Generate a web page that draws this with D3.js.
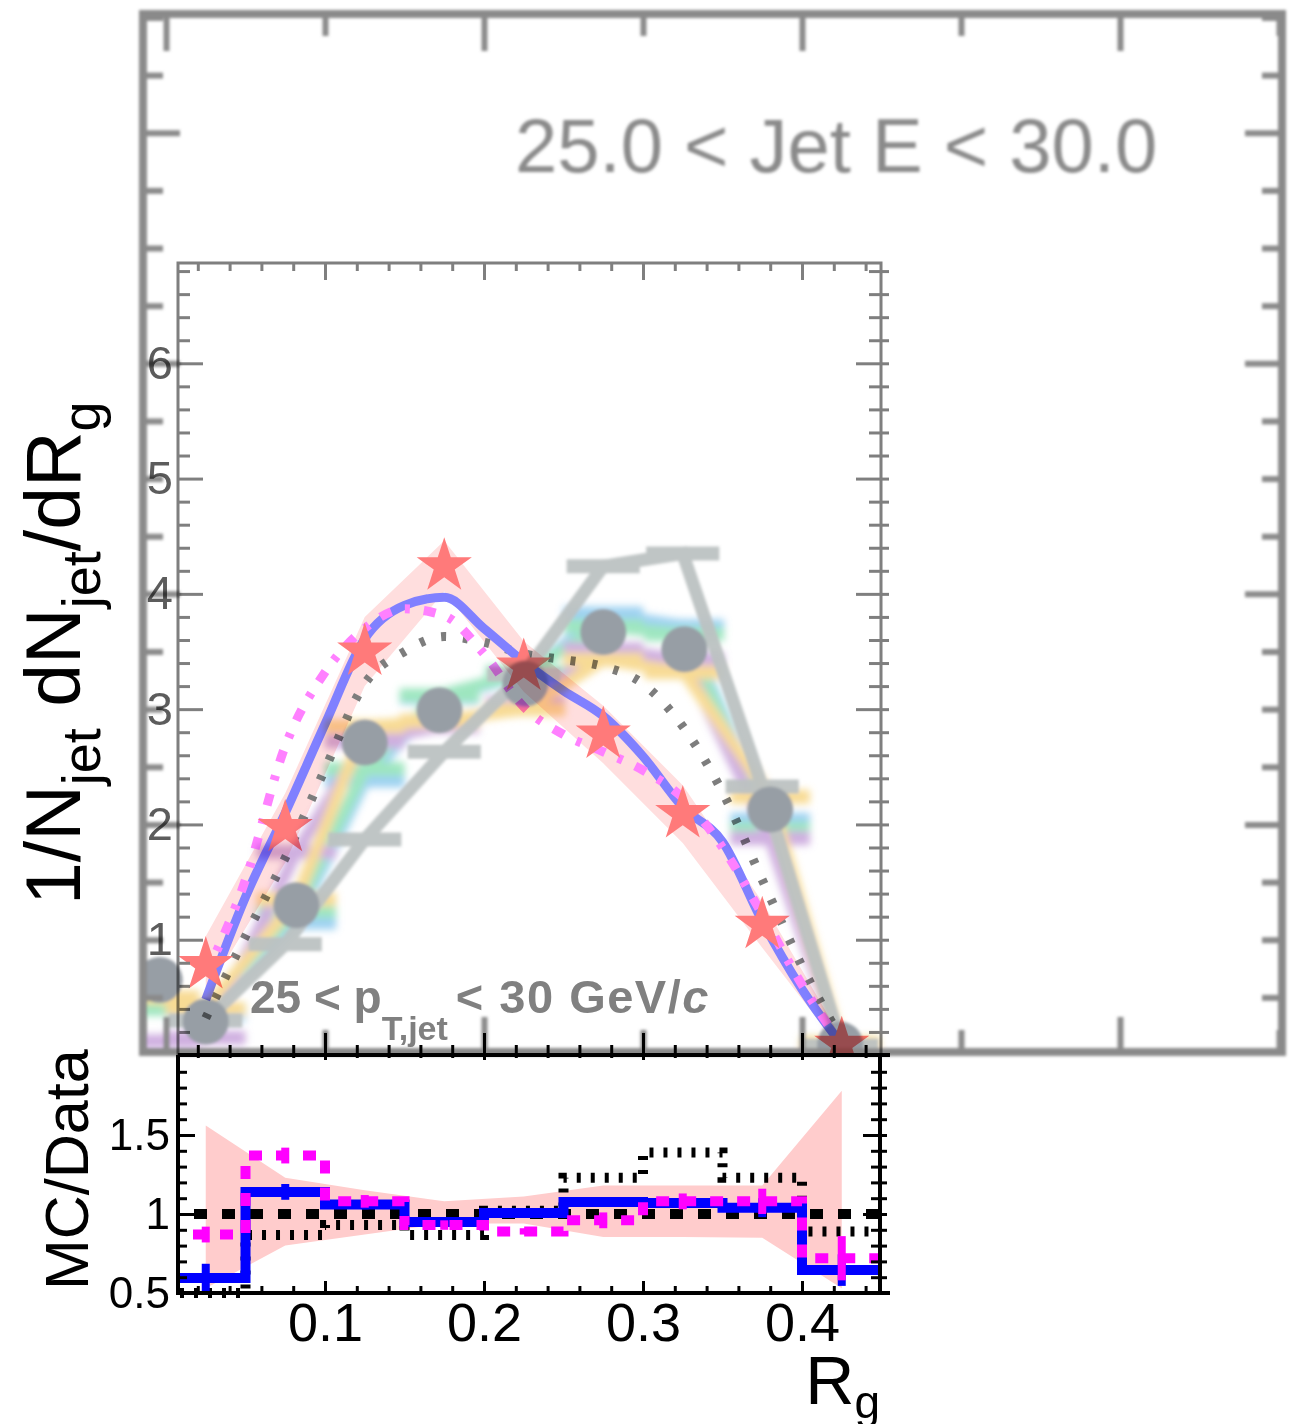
<!DOCTYPE html>
<html><head><meta charset="utf-8">
<script src="https://cdn.jsdelivr.net/npm/d3@7"></script>
<style>body{margin:0;background:#fff}svg{display:block}</style>
</head><body><svg id="c" width="1292" height="1424"></svg>
<script>
// ---------------- data ----------------
const binEdges   = [0,0.05,0.1,0.15,0.2,0.25,0.3,0.35,0.4,0.45];
const binCenters = [0.025,0.075,0.125,0.175,0.225,0.275,0.325,0.375,0.425];
const dataY   = [0.78,1.97,3.50,4.24,3.37,2.78,2.09,1.13,0.09];
const dataErr = [0.25,0.30,0.30,0.22,0.22,0.25,0.25,0.20,0.05];
const curveX  = [0.025,0.05,0.075,0.1,0.125,0.15,0.175,0.2,0.225,0.25,0.275,0.3,0.325,0.35,0.375,0.4,0.425];
const blueY   = [0.48,1.37,2.10,2.87,3.61,3.90,3.97,3.70,3.41,3.16,2.94,2.59,2.15,1.85,1.16,0.57,0.09];
const magY    = [0.70,1.52,2.68,3.32,3.70,3.87,3.81,3.48,3.02,2.78,2.63,2.47,2.23,1.80,1.22,0.61,0.09];
const dotY    = [0.32,1.03,1.71,2.48,3.22,3.50,3.63,3.58,3.48,3.43,3.37,3.22,2.85,2.28,1.52,0.77,0.13];
// ratio panel
const ratioBlue    = [0.595,1.14,1.06,0.95,1.006,1.076,1.07,1.04,0.645];
const ratioBlueErr = [0.09,0.05,0.03,0.02,0.02,0.03,0.03,0.06,0.10];
const ratioMag     = [0.87,1.37,1.08,0.93,0.89,0.96,1.08,1.08,0.72];
const ratioMagErr  = [0.05,0.05,0.04,0.03,0.02,0.05,0.05,0.08,0.14];
const ratioDot     = [0.5,0.867,0.93,0.867,1.02,1.23,1.39,1.23,0.89];
const ratioBandHi  = [1.56,1.23,1.15,1.08,1.11,1.18,1.18,1.18,1.78];
const ratioBandLo  = [0.53,0.80,0.87,0.94,0.94,0.855,0.855,0.85,0.53];
// background (overlaid) plot
const bgX      = [-0.004,0.025,0.082,0.125,0.172,0.226,0.275,0.326,0.38,0.424];
const bgDataY  = [0.65,0.29,1.30,2.71,2.99,3.22,3.67,3.52,2.13,0.09];
const bgBlue   = [0.45,0.35,1.15,2.38,3.10,3.30,3.83,3.72,2.04,0.10];
const bgGreen  = [0.40,0.40,1.25,2.48,3.12,3.32,3.72,3.65,1.96,0.10];
const bgPurple = [0.12,0.15,1.76,2.72,2.85,3.05,3.52,3.43,1.88,0.05];
const bgYellow = [0.50,0.40,1.35,2.85,2.90,3.00,3.43,3.32,2.24,0.10];
const bgAltX   = [0.025,0.075,0.125,0.175,0.225,0.275,0.325,0.375,0.425];
const bgAltY   = [0.30,0.96,1.87,2.63,3.30,4.24,4.35,2.33,0.08];
const mainYLabels  = [1,2,3,4,5,6];
const ratioYLabels = [0.5,1,1.5];
const xLabels      = [0.1,0.2,0.3,0.4];
const bgLabel = "25.0 < Jet E < 30.0";

// ---------------- setup ----------------
const svg = d3.select('#c');
svg.append('rect').attr('width',1292).attr('height',1424).attr('fill','#fff');
const defs = svg.append('defs');
defs.append('filter').attr('id','bgBlur').attr('x','-5%').attr('y','-5%').attr('width','110%').attr('height','110%')
  .append('feGaussianBlur').attr('stdDeviation',1.5);
defs.append('filter').attr('id','bandBlur').attr('x','-10%').attr('y','-10%').attr('width','120%').attr('height','120%')
  .append('feGaussianBlur').attr('stdDeviation',3.5);
defs.append('clipPath').attr('id','bgClip').append('rect').attr('x',147).attr('y',18).attr('width',1131).attr('height',1030);
defs.append('clipPath').attr('id','mainClip').append('rect').attr('x',178).attr('y',263).attr('width',703).attr('height',792);
defs.append('clipPath').attr('id','ratioClip').append('rect').attr('x',178).attr('y',1040).attr('width',702).attr('height',280);

const x  = d3.scaleLinear().domain([0,0.45]).range([166,881.5]);
const y  = d3.scaleLinear().domain([0,6.87]).range([1055,263]);
const yr = d3.scaleLinear().domain([0.5,2.0]).range([1293,1056]);
const FONT = "'Liberation Sans', Arial, Helvetica, sans-serif";

function tickAxis(g, axisFn, scale, values, size, color, width){
  g.call(axisFn(scale).tickValues(values).tickSize(size).tickFormat(''));
  g.select('.domain').remove();
  g.selectAll('line').attr('stroke',color).attr('stroke-width',width);
  return g;
}
const near = (v,s)=>Math.abs(v/s-Math.round(v/s))<1e-6;

// ---------------- background plot ----------------
const bg = svg.append('g').attr('filter','url(#bgBlur)');
const bgD = bg.append('g').attr('clip-path','url(#bgClip)');
const bandG = bgD.append('g').attr('filter','url(#bandBlur)').attr('opacity',0.8);
const variants = [
  {vals:bgBlue,color:'#86c6ee'},
  {vals:bgGreen,color:'#86e0b0'},
  {vals:bgPurple,color:'#c39bd8'},
  {vals:bgYellow,color:'#f6d27a'}
];
const lineXY = d3.line().x(d=>x(d[0])).y(d=>y(d[1]));
variants.forEach(v=>{
  const pts = bgX.map((xx,i)=>[xx,v.vals[i]]);
  bandG.append('path').attr('d',lineXY(pts)).attr('fill','none').attr('stroke',v.color).attr('stroke-width',12);
  bandG.append('g').selectAll('line').data(pts).join('line')
    .attr('x1',d=>x(d[0]-0.025)).attr('x2',d=>x(d[0]+0.025))
    .attr('y1',d=>y(d[1])).attr('y2',d=>y(d[1]))
    .attr('stroke',v.color).attr('stroke-width',14);
});
// light grey series with bin bars
const altG = bgD.append('g').attr('opacity',0.95);
altG.append('path').attr('d',lineXY(bgAltX.map((xx,i)=>[xx,bgAltY[i]])))
  .attr('fill','none').attr('stroke','#bcc2c2').attr('stroke-width',13);
altG.selectAll('line.bar').data(bgAltX.map((xx,i)=>[xx,bgAltY[i]])).join('line')
  .attr('x1',d=>x(d[0]-0.023)).attr('x2',d=>x(d[0]+0.023))
  .attr('y1',d=>y(d[1])).attr('y2',d=>y(d[1]))
  .attr('stroke','#bcc2c2').attr('stroke-width',14);
// grey points
bgD.selectAll('circle').data(bgX.map((xx,i)=>[xx,bgDataY[i]])).join('circle')
  .attr('cx',d=>x(d[0])).attr('cy',d=>y(d[1])).attr('r',23).attr('fill','#979ea5');
// frame
const bgCol = '#8a8a8a';
bg.append('rect').attr('x',143).attr('y',14).attr('width',1139).attr('height',1038)
  .attr('fill','none').attr('stroke',bgCol).attr('stroke-width',8);
const bgXt = d3.range(0,0.701,0.1);
const bgXmaj = bgXt.filter(v=>near(v,0.2)), bgXmin = bgXt.filter(v=>!near(v,0.2));
tickAxis(bg.append('g').attr('transform','translate(0,14)'), d3.axisTop, x, bgXmaj, -37, bgCol, 6);
tickAxis(bg.append('g').attr('transform','translate(0,14)'), d3.axisTop, x, bgXmin, -22, bgCol, 6);
tickAxis(bg.append('g').attr('transform','translate(0,1052)'), d3.axisBottom, x, bgXmaj, -35, bgCol, 6);
tickAxis(bg.append('g').attr('transform','translate(0,1052)'), d3.axisBottom, x, bgXmin, -22, bgCol, 6);
const bgYt = d3.range(0.5,9.01,0.5);
const bgYmaj = bgYt.filter(v=>near(v,2)), bgYmin = bgYt.filter(v=>!near(v,2));
tickAxis(bg.append('g').attr('transform','translate(143,0)'), d3.axisLeft, y, bgYmaj, -37, bgCol, 6);
tickAxis(bg.append('g').attr('transform','translate(143,0)'), d3.axisLeft, y, bgYmin, -20, bgCol, 6);
tickAxis(bg.append('g').attr('transform','translate(1282,0)'), d3.axisRight, y, bgYmaj, -37, bgCol, 6);
tickAxis(bg.append('g').attr('transform','translate(1282,0)'), d3.axisRight, y, bgYmin, -20, bgCol, 6);
bg.append('text').attr('x',515).attr('y',172).attr('font-family',FONT).attr('font-size',76)
  .attr('fill','#8a8a8a').text(bgLabel);

// ---------------- front plot (multiplied on top) ----------------
const fr = svg.append('g').style('mix-blend-mode','multiply');
const mainG = fr.append('g').attr('clip-path','url(#mainClip)');
// data band
mainG.append('path')
  .attr('d', d3.area().x(d=>x(d[0])).y0(d=>y(d[1]-d[2])).y1(d=>y(d[1]+d[2]))(binCenters.map((c,i)=>[c,dataY[i],dataErr[i]])))
  .attr('fill','rgb(255,222,222)');
const curveLine = d3.line().x(d=>x(d[0])).y(d=>y(d[1])).curve(d3.curveMonotoneX);
mainG.append('path').attr('d',curveLine(curveX.map((c,i)=>[c,dotY[i]])))
  .attr('fill','none').attr('stroke','rgb(125,125,125)').attr('stroke-width',9).attr('stroke-dasharray','5 17');
mainG.append('path').attr('d',curveLine(curveX.map((c,i)=>[c,blueY[i]])))
  .attr('fill','none').attr('stroke','rgb(128,128,255)').attr('stroke-width',9);
mainG.append('path').attr('d',curveLine(curveX.map((c,i)=>[c,magY[i]])))
  .attr('fill','none').attr('stroke','rgb(255,128,255)').attr('stroke-width',9).attr('stroke-dasharray','12 14 5 14');
mainG.selectAll('path.star').data(binCenters.map((c,i)=>[c,dataY[i]])).join('path').attr('class','star')
  .attr('d', d3.symbol(d3.symbolStar, 944)())
  .attr('transform',d=>`translate(${x(d[0])},${y(d[1])})`)
  .attr('fill','rgb(255,122,122)');

// main frame & ticks (grey)
const gCol = '#7f7f7f';
fr.append('path').attr('d','M178,1055 V263 H881 V1055').attr('fill','none').attr('stroke',gCol).attr('stroke-width',3);
const mYt = d3.range(0.2,6.81,0.2);
const mYmaj = mYt.filter(v=>near(v,1)), mYmin = mYt.filter(v=>!near(v,1));
tickAxis(fr.append('g').attr('transform','translate(178,0)'), d3.axisLeft, y, mYmaj, -25, gCol, 3);
tickAxis(fr.append('g').attr('transform','translate(178,0)'), d3.axisLeft, y, mYmin, -12, gCol, 3);
tickAxis(fr.append('g').attr('transform','translate(881,0)'), d3.axisRight, y, mYmaj, -25, gCol, 3);
tickAxis(fr.append('g').attr('transform','translate(881,0)'), d3.axisRight, y, mYmin, -12, gCol, 3);
tickAxis(fr.append('g').attr('transform','translate(881,0)'), d3.axisRight, y, mYt, 8, gCol, 3);
const mXt = d3.range(0.02,0.441,0.02);
const mXmaj = mXt.filter(v=>near(v,0.1)), mXmin = mXt.filter(v=>!near(v,0.1));
tickAxis(fr.append('g').attr('transform','translate(0,263)'), d3.axisTop, x, mXmaj, -17, gCol, 3);
tickAxis(fr.append('g').attr('transform','translate(0,263)'), d3.axisTop, x, mXmin, -8, gCol, 3);
// y labels
const yl = fr.append('g').attr('transform','translate(178,0)')
  .call(d3.axisLeft(y).tickValues(mainYLabels).tickSize(0).tickPadding(5).tickFormat(d3.format('d')));
yl.select('.domain').remove();
yl.selectAll('text').attr('font-family',FONT).attr('font-size',47).attr('fill','#5c5c5c');

// pT label
const pt = fr.append('text').attr('x',250).attr('y',1013).attr('font-family',FONT).attr('font-weight','bold')
  .attr('font-size',46).attr('fill','#808080');
pt.append('tspan').text('25 < p');
pt.append('tspan').attr('font-size',34).attr('dy',27).text('T,jet');
pt.append('tspan').attr('font-size',47).attr('dy',-27).attr('dx',8).attr('letter-spacing',1.5).text('< 30 GeV/');
pt.append('tspan').attr('font-style','italic').attr('font-size',47).text('c');

// y title
const yt = fr.append('text').attr('transform','translate(80,905) rotate(-90)')
  .attr('font-family',FONT).attr('font-size',77).attr('fill','#000');
yt.append('tspan').text('1/N');
yt.append('tspan').attr('font-size',54).attr('dy',20).text('jet');
yt.append('tspan').attr('font-size',77).attr('dy',-20).text(' dN');
yt.append('tspan').attr('font-size',54).attr('dy',20).text('jet');
yt.append('tspan').attr('font-size',77).attr('dy',-20).text('/dR');
yt.append('tspan').attr('font-size',54).attr('dy',20).text('g');

// ---------------- ratio panel ----------------
const rG = fr.append('g').attr('clip-path','url(#ratioClip)');
rG.append('path')
  .attr('d', d3.area().x(d=>x(d[0])).y0(d=>yr(d[1])).y1(d=>yr(d[2]))(binCenters.map((c,i)=>[c,ratioBandLo[i],ratioBandHi[i]])))
  .attr('fill','rgb(255,204,204)');
rG.append('line').attr('x1',x(0)).attr('x2',x(0.45)).attr('y1',yr(1)).attr('y2',yr(1))
  .attr('stroke','#000').attr('stroke-width',10).attr('stroke-dasharray','13 15');
const stepLine = d3.line().x(d=>x(d[0])).y(d=>yr(d[1])).curve(d3.curveStepAfter);
const stepData = vals => binEdges.map((e,i)=>[e, vals[Math.min(i, vals.length-1)]]);
rG.append('path').attr('d',stepLine(stepData(ratioDot)))
  .attr('fill','none').attr('stroke','#000').attr('stroke-width',10).attr('stroke-dasharray','4 10');
rG.append('path').attr('d',stepLine(stepData(ratioBlue)))
  .attr('fill','none').attr('stroke','#0000ff').attr('stroke-width',10);
rG.selectAll('line.be').data(binCenters.map((c,i)=>[c,ratioBlue[i],ratioBlueErr[i]])).join('line').attr('class','be')
  .attr('x1',d=>x(d[0])).attr('x2',d=>x(d[0])).attr('y1',d=>yr(d[1]-d[2])).attr('y2',d=>yr(d[1]+d[2]))
  .attr('stroke','#0000ff').attr('stroke-width',8);
rG.append('path').attr('d',stepLine(stepData(ratioMag)))
  .attr('fill','none').attr('stroke','#ff00ff').attr('stroke-width',10).attr('stroke-dasharray','13 14');
rG.selectAll('line.me').data(binCenters.map((c,i)=>[c,ratioMag[i],ratioMagErr[i]])).join('line').attr('class','me')
  .attr('x1',d=>x(d[0])).attr('x2',d=>x(d[0])).attr('y1',d=>yr(d[1]-d[2])).attr('y2',d=>yr(d[1]+d[2]))
  .attr('stroke','#ff00ff').attr('stroke-width',8);

// ratio frame (black)
fr.append('path').attr('d','M178,1055 V1293 H890 M880,1293 V1055 M178,1055 H890')
  .attr('fill','none').attr('stroke','#000').attr('stroke-width',4);
const rYt = d3.range(0.6,1.951,0.1);
const rYmaj = rYt.filter(v=>near(v,0.5)), rYmin = rYt.filter(v=>!near(v,0.5));
tickAxis(fr.append('g').attr('transform','translate(178,0)'), d3.axisLeft, yr, rYmaj, -17, '#000', 3);
tickAxis(fr.append('g').attr('transform','translate(178,0)'), d3.axisLeft, yr, rYmin, -9, '#000', 3);
tickAxis(fr.append('g').attr('transform','translate(880,0)'), d3.axisRight, yr, rYmaj, -17, '#000', 3);
tickAxis(fr.append('g').attr('transform','translate(880,0)'), d3.axisRight, yr, rYmin, -9, '#000', 3);
tickAxis(fr.append('g').attr('transform','translate(880,0)'), d3.axisRight, yr, rYt, 7, '#000', 3);
tickAxis(fr.append('g').attr('transform','translate(0,1293)'), d3.axisBottom, x, mXmaj, -12, '#000', 3);
tickAxis(fr.append('g').attr('transform','translate(0,1293)'), d3.axisBottom, x, mXmin, -7, '#000', 3);
// ticks at the panel boundary
tickAxis(fr.append('g').attr('transform','translate(0,1060)'), d3.axisBottom, x, mXmaj, -27, '#000', 3);
tickAxis(fr.append('g').attr('transform','translate(0,1058)'), d3.axisBottom, x, mXmin, -13, '#000', 3);

const ryl = fr.append('g').attr('transform','translate(178,0)')
  .call(d3.axisLeft(yr).tickValues(ratioYLabels).tickSize(0).tickPadding(8).tickFormat(d=>String(d)));
ryl.select('.domain').remove();
ryl.selectAll('text').attr('font-family',FONT).attr('font-size',44).attr('fill','#000');

const xl = fr.append('g').attr('transform','translate(0,1293)')
  .call(d3.axisBottom(x).tickValues(xLabels).tickSize(0).tickPadding(10).tickFormat(d3.format('.1f')));
xl.select('.domain').remove();
xl.selectAll('text').attr('font-family',FONT).attr('font-size',54).attr('fill','#000');

// MC/Data title
fr.append('text').attr('transform','translate(88,1290) rotate(-90)')
  .attr('font-family',FONT).attr('font-size',61).attr('fill','#000').text('MC/Data');
// Rg title
const rt = fr.append('text').attr('x',880).attr('y',1404).attr('text-anchor','end')
  .attr('font-family',FONT).attr('font-size',68).attr('fill','#000');
rt.append('tspan').text('R');
rt.append('tspan').attr('font-size',46).attr('dy',14).text('g');
</script></body></html>
